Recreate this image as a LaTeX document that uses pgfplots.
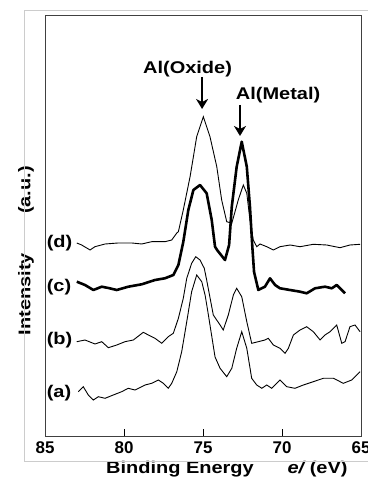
\documentclass[border=0pt]{standalone}
\usepackage{pgfplots}
\pgfplotsset{compat=1.18}
\usepackage{graphicx}
\usepackage{fontspec}
\setmainfont{Liberation Sans}
\usetikzlibrary{arrows.meta}
\newcommand{\lbl}[1]{\scalebox{1.18}[1]{\fontsize{17}{17}\selectfont\bfseries #1}}
\begin{document}
\begin{tikzpicture}
\begin{axis}[
  scale only axis, width=316bp, height=421bp,
  x dir=reverse, xmin=65, xmax=85, ymin=1, ymax=422,
  xtick={65,70,75,80,85}, ytick=\empty,
  xtick pos=lower, tick align=inside, major tick length=7bp,
  axis line style={black!75, line width=0.8pt},
  every tick/.style={black, line width=1pt},
  /pgf/number format/assume math mode=true,
  xticklabel style={font=\fontsize{17}{17}\selectfont\bfseries, yshift=-4.5bp, inner sep=1bp},
  clip=false,
]
% (d)
\addplot[black, line width=0.9pt] coordinates {
(82.99,194) (82.68,192) (82.15,187) (81.84,190.3) (81.20,193) (80.38,194) (79.51,194) (78.88,193) (78.25,195.3) (77.41,195.3) (76.98,197) (76.66,204) (76.56,205.3) (76.25,227) (75.82,260.3) (75.40,300.3) (74.98,320.3) (74.56,300.3) (74.13,270.3) (73.82,237) (73.50,215.3) (73.18,213.7) (72.77,237) (72.45,252) (72.23,243.7) (72.03,217) (71.82,197) (71.60,190.3) (71.39,193) (70.97,190.3) (70.55,187) (70.13,190.3) (69.49,192) (68.86,190.3) (68.02,192.7) (67.17,192) (66.33,189.3) (65.70,192) (65.06,192.7)
};
% (c)
\addplot[black, line width=2.6pt, line join=round] coordinates {
(82.99,155.3) (82.47,152) (81.94,147) (81.41,150.3) (80.99,149) (80.46,147) (79.73,150.3) (78.88,152.7) (78.04,157) (77.41,158.7) (76.88,162) (76.56,172) (76.25,195) (75.93,227) (75.61,247) (75.19,252) (74.77,243.7) (74.45,217) (74.24,190.3) (74.11,187) (73.61,177) (73.35,192) (73.18,230.3) (72.87,270.3) (72.55,295.3) (72.23,270.3) (72.03,230.3) (71.88,190.3) (71.77,165) (71.50,147) (71.08,150.3) (70.76,158.7) (70.44,152) (70.13,148.7) (69.49,147) (68.86,145.3) (68.44,143.7) (67.91,148.7) (67.28,150.3) (66.85,148.7) (66.54,152) (66.22,147) (66.01,143.7)
};
% (b)
\addplot[black, line width=0.9pt] coordinates {
(82.99,95.3) (82.47,97) (81.84,93) (81.41,95.3) (80.99,89.3) (80.46,92) (79.94,95.3) (79.41,97) (78.78,104.7) (78.46,102) (78.04,98.7) (77.61,93.7) (77.20,100.3) (76.88,103.7) (76.56,118.7) (76.25,138.7) (76.03,158.7) (75.72,173.7) (75.46,180.3) (75.19,177) (74.92,168.7) (74.77,157) (74.35,122) (73.92,112) (73.72,107) (73.40,122) (73.08,142) (72.87,148.7) (72.55,140.3) (72.23,115.3) (71.92,93.7) (71.50,95.3) (71.08,97) (70.87,98.7) (70.55,92) (70.13,88.7) (69.81,83.7) (69.60,88.7) (69.28,102) (68.86,107) (68.44,110.3) (68.02,105.3) (67.59,97) (67.28,102) (66.96,105.3) (66.54,112) (66.22,93.7) (66.01,95.3) (65.70,110.3) (65.38,112) (65.06,105.3)
};
% (a)
\addplot[black, line width=0.9pt] coordinates {
(82.89,45.3) (82.58,50.3) (82.26,42) (81.94,37) (81.63,40.3) (81.20,38.7) (80.68,42) (80.15,45.3) (79.73,48.7) (79.30,47) (78.67,52) (78.25,53.7) (77.83,57) (77.51,53.7) (77.20,48.7) (76.98,53.7) (76.66,65.3) (76.35,85.3) (76.03,115.3) (75.72,145.3) (75.40,162) (75.08,155.3) (74.87,142) (74.68,124) (74.24,80) (73.92,68.7) (73.50,60.3) (73.18,68.7) (72.87,88.7) (72.55,105.3) (72.23,88.7) (71.92,58.7) (71.60,52) (71.28,48.7) (70.97,52) (70.65,48.7) (70.13,57) (69.70,50.3) (69.18,48.7) (68.65,52) (68.02,55.3) (67.39,58.7) (66.75,58.7) (66.12,53.7) (65.59,57) (65.06,65.3)
};
% curve labels
\node[anchor=west, inner sep=0] at (axis cs:84.90,194) {\lbl{(d)}};
\node[anchor=west, inner sep=0] at (axis cs:84.90,150) {\lbl{(c)}};
\node[anchor=west, inner sep=0] at (axis cs:84.90,97) {\lbl{(b)}};
\node[anchor=west, inner sep=0] at (axis cs:84.90,44) {\lbl{(a)}};
% annotations
\node at (axis cs:75.98,368) {\lbl{Al(Oxide)}};
\node at (axis cs:70.25,342) {\lbl{Al(Metal)}};
\draw[line width=1.8pt, -{Stealth[length=10bp,width=12bp,inset=3bp]}] (axis cs:75.06,360) -- (axis cs:75.06,328);
\draw[line width=1.8pt, -{Stealth[length=10bp,width=12bp,inset=3bp]}] (axis cs:72.66,332) -- (axis cs:72.66,301);
% axis labels
\node[rotate=90] at (axis cs:86.20,143) {\lbl{Intensity}};
\node[rotate=90] at (axis cs:86.20,247) {\lbl{(a.u.)}};
\node[inner sep=1bp] at (axis cs:76.46,-32) {\lbl{Binding Energy}};
\node[inner sep=1bp] at (axis cs:67.75,-32) {\lbl{\itshape e/\upshape{} (eV)}};
% outer frame
\draw[black!20, line width=0.8pt] (axis cs:64.40,427) -- (axis cs:86.33,427) -- (axis cs:86.33,-24) -- (axis cs:64.40,-24);
\coordinate (BL) at (axis cs:87.85,-49);
\coordinate (TR) at (axis cs:64.62,437);
\end{axis}
\pgfresetboundingbox
\path (BL) rectangle (TR);
\end{tikzpicture}
\end{document}
